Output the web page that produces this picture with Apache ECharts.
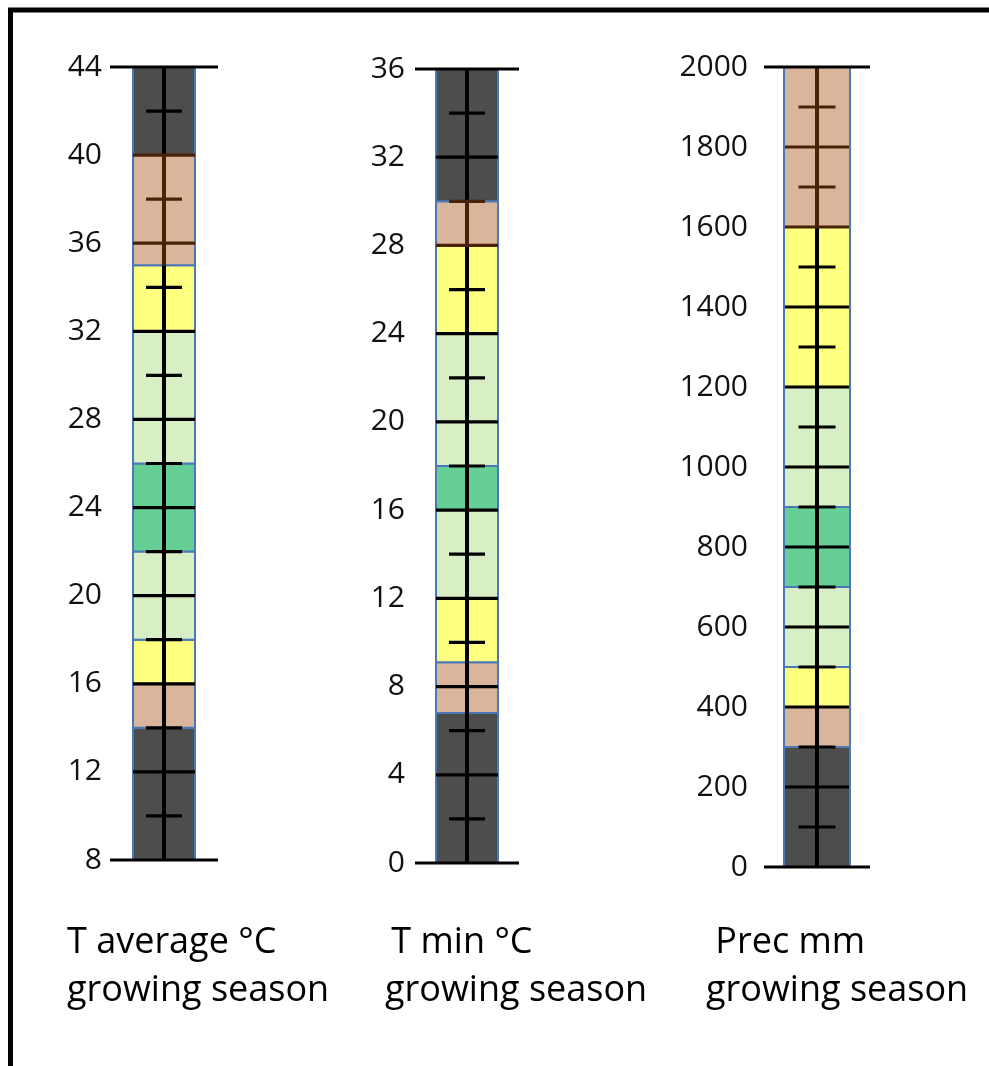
<!DOCTYPE html>
<html><head><meta charset="utf-8">
<script src="https://cdn.jsdelivr.net/npm/echarts/dist/echarts.min.js"></script>
<style>html,body{margin:0;padding:0;background:#fff}#c{width:989px;height:1066px}</style>
</head><body><div id="c"></div>
<script>
// ---- data ----
const tavgBreaks = [8, 14, 16, 18, 22, 26, 32, 35, 40, 44];
const tavgClasses = ['dark', 'tan', 'yellow', 'light', 'green', 'light', 'yellow', 'tan', 'dark'];
const tavgMajorTicks = [12, 16, 20, 24, 28, 32, 36, 40];
const tavgMinorTicks = [10, 14, 18, 22, 26, 30, 34, 38, 42];
const tavgRange = [8, 44, 4];
const tavgTitle = ['T average °C', 'growing season'];

const tminBreaks = [0, 6.8, 9.1, 12, 16, 18, 24, 28, 30, 36];
const tminClasses = ['dark', 'tan', 'yellow', 'light', 'green', 'light', 'yellow', 'tan', 'dark'];
const tminMajorTicks = [4, 8, 12, 16, 20, 24, 28, 32];
const tminMinorTicks = [2, 6, 10, 14, 18, 22, 26, 30, 34];
const tminRange = [0, 36, 4];
const tminTitle = [' T min °C', 'growing season'];

const precBreaks = [0, 300, 400, 500, 700, 900, 1200, 1600, 2000];
const precClasses = ['dark', 'tan', 'yellow', 'light', 'green', 'light', 'yellow', 'tan'];
const precMajorTicks = [200, 400, 600, 800, 1000, 1200, 1400, 1600, 1800];
const precMinorTicks = [100, 300, 500, 700, 900, 1100, 1300, 1500, 1700, 1900];
const precRange = [0, 2000, 200];
const precTitle = [' Prec mm', 'growing season'];

// ---- styles ----
const classColors = { dark: '#4d4d4d', tan: '#d9b59c', yellow: '#ffff80', light: '#d8eec4', green: '#65cf95' };
const FONT = '"Open Sans", sans-serif';
const panels = [
  { breaks: tavgBreaks, classes: tavgClasses, major: tavgMajorTicks, minor: tavgMinorTicks, range: tavgRange, title: tavgTitle,
    grid: { left: 110, width: 108, top: 67, height: 793 }, margin: 8, barW: 62, majW: 62, minW: 36, tx: [67, 67] },
  { breaks: tminBreaks, classes: tminClasses, major: tminMajorTicks, minor: tminMinorTicks, range: tminRange, title: tminTitle,
    grid: { left: 415, width: 104, top: 69, height: 794 }, margin: 10, barW: 62, majW: 62, minW: 36, tx: [382, 385] },
  { breaks: precBreaks, classes: precClasses, major: precMajorTicks, minor: precMinorTicks, range: precRange, title: precTitle,
    grid: { left: 764, width: 106, top: 67, height: 800 }, margin: 16, barW: 66, majW: 64, minW: 37, tx: [706, 706] }
];

const grids = [], xAxes = [], yAxes = [], series = [], graphics = [];

function isUpperTan(p, v) {
  const mid = (p.range[0] + p.range[1]) / 2;
  for (let i = 0; i < p.classes.length; i++) {
    if (p.classes[i] === 'tan' && p.breaks[i] > mid && v >= p.breaks[i] && v <= p.breaks[i + 1]) return true;
  }
  return false;
}

panels.forEach((p, k) => {
  grids.push(p.grid);
  xAxes.push({ type: 'category', gridIndex: k, data: ['c'], show: false });
  yAxes.push({
    type: 'value', gridIndex: k, min: p.range[0], max: p.range[1], interval: p.range[2],
    axisLine: { show: false }, axisTick: { show: false }, splitLine: { show: false },
    axisLabel: { color: '#111', fontSize: 30, fontFamily: FONT, margin: p.margin, formatter: v => String(v) }
  });
  const segs = p.classes.map((c, i) => [0, p.breaks[i], p.breaks[i + 1], i]);
  // coloured class bars
  series.push({
    type: 'custom', xAxisIndex: k, yAxisIndex: k, z: 2, data: segs,
    renderItem: (params, api) => {
      const top = api.coord([0, api.value(2)]);
      const bot = api.coord([0, api.value(1)]);
      const c = p.classes[api.value(3)];
      return { type: 'rect', shape: { x: top[0] - p.barW / 2, y: top[1], width: p.barW, height: bot[1] - top[1] },
        style: { fill: classColors[c], stroke: '#4a78b8', lineWidth: 2 } };
    }
  });
  // central axis line (per segment)
  series.push({
    type: 'custom', xAxisIndex: k, yAxisIndex: k, z: 3, data: segs,
    renderItem: (params, api) => {
      const top = api.coord([0, api.value(2)]);
      const bot = api.coord([0, api.value(1)]);
      const i = api.value(3);
      const brown = p.classes[i] === 'tan' && p.breaks[i] > (p.range[0] + p.range[1]) / 2;
      return { type: 'line', shape: { x1: top[0], y1: top[1], x2: bot[0], y2: bot[1] },
        style: { stroke: brown ? '#4a2208' : '#000', lineWidth: 4 } };
    }
  });
  // ticks
  const ticks = [];
  p.major.forEach(v => ticks.push([0, v, 0]));
  p.minor.forEach(v => ticks.push([0, v, 1]));
  ticks.push([0, p.range[0], 2]);
  ticks.push([0, p.range[1], 2]);
  series.push({
    type: 'custom', xAxisIndex: k, yAxisIndex: k, z: 4, data: ticks,
    renderItem: (params, api) => {
      const v = api.value(1), kind = api.value(2);
      const pt = api.coord([0, v]);
      const w = kind === 0 ? p.majW : kind === 1 ? p.minW : p.grid.width;
      const col = kind !== 2 && isUpperTan(p, v) ? '#4a2208' : '#000';
      return { type: 'line', shape: { x1: pt[0] - w / 2, y1: pt[1], x2: pt[0] + w / 2, y2: pt[1] },
        style: { stroke: col, lineWidth: 3.2 } };
    }
  });
  graphics.push({ type: 'text', left: p.tx[0], top: 925, style: { text: p.title[0], font: '36px ' + FONT, fill: '#000' } });
  graphics.push({ type: 'text', left: p.tx[1], top: 973, style: { text: p.title[1], font: '36px ' + FONT, fill: '#000' } });
});

graphics.push({ type: 'rect', shape: { x: 10.5, y: 10, width: 1000, height: 1100 },
  style: { fill: 'none', stroke: '#000', lineWidth: 5 } });

const chart = echarts.init(document.getElementById('c'), null, { renderer: 'canvas' });
chart.setOption({
  animation: false,
  backgroundColor: '#fff',
  grid: grids, xAxis: xAxes, yAxis: yAxes, series: series, graphic: graphics
});
</script></body></html>
